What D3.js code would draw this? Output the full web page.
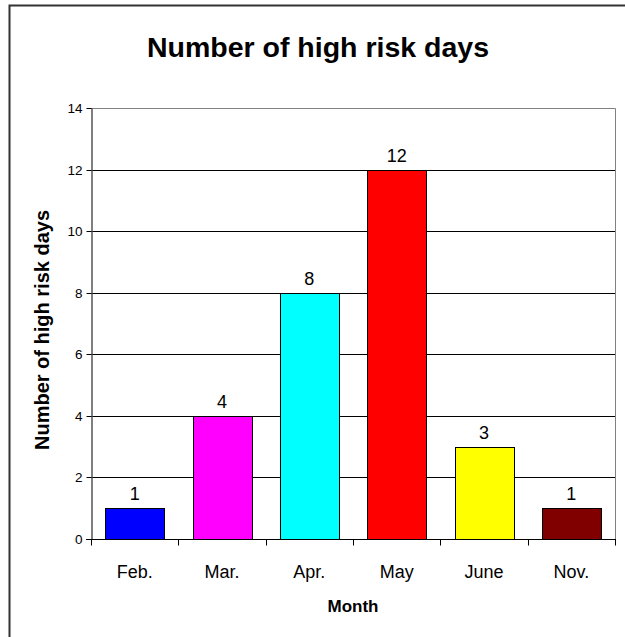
<!DOCTYPE html>
<html>
<head>
<meta charset="utf-8">
<script src="https://cdn.jsdelivr.net/npm/d3@7"></script>
<style>
  html, body { margin: 0; padding: 0; background: #fff; }
  svg { display: block; font-family: Arial, "Liberation Sans", sans-serif; }
  .ytick text { font-size: 13.5px; }
</style>
</head>
<body>
<svg id="chart" width="625" height="637"></svg>
<script>
const categories = ["Feb.", "Mar.", "Apr.", "May", "June", "Nov."];
const values = [1, 4, 8, 12, 3, 1];
const barColors = ["#0000FF", "#FF00FF", "#00FFFF", "#FF0000", "#FFFF00", "#800000"];
const yTicks = [0, 2, 4, 6, 8, 10, 12, 14];
const titleText = "Number of high risk days";
const yLabelText = "Number of high risk days";
const xLabelText = "Month";

const svg = d3.select("#chart");
const W = 625, H = 637;
const m = { left: 91, right: 615, top: 108, bottom: 539 };

// outer border (top & left visible)
svg.append("path")
  .attr("d", `M9.5,${H} L9.5,5.5 L${W},5.5`)
  .attr("fill", "none").attr("stroke", "#333").attr("stroke-width", 2);

const x = d3.scaleBand().domain(categories).range([m.left, m.right]).paddingInner(0.33).paddingOuter(0.165);
const xCat = d3.scaleBand().domain(categories).range([m.left, m.right]).padding(0);
const y = d3.scaleLinear().domain([0, 14]).range([m.bottom, m.top]);

// gridlines
svg.append("g").selectAll("line").data(yTicks.filter(t => t > 0 && t < 14)).join("line")
  .attr("x1", m.left).attr("x2", m.right)
  .attr("y1", d => Math.round(y(d)) + 0.5).attr("y2", d => Math.round(y(d)) + 0.5)
  .attr("stroke", "#000").attr("stroke-width", 1);

// plot border top/right
svg.append("path")
  .attr("d", `M${m.left},${Math.round(y(14)) + 0.5} L${m.right + 0.5},${Math.round(y(14)) + 0.5} L${m.right + 0.5},${m.bottom}`)
  .attr("fill", "none").attr("stroke", "#808080").attr("stroke-width", 1);

// bars
svg.append("g").selectAll("rect").data(categories).join("rect")
  .attr("x", d => Math.round(x(d)) + 0.5)
  .attr("y", (d, i) => Math.round(y(values[i])) + 0.5)
  .attr("width", Math.round(x.bandwidth()))
  .attr("height", (d, i) => Math.round(y(0)) - Math.round(y(values[i])))
  .attr("fill", (d, i) => barColors[i])
  .attr("stroke", "#000").attr("stroke-width", 1);

// data labels
svg.append("g").selectAll("text").data(categories).join("text")
  .attr("x", d => x(d) + x.bandwidth() / 2)
  .attr("y", (d, i) => y(values[i]) - 8)
  .attr("text-anchor", "middle")
  .style("font-size", "18px").attr("fill", "#000")
  .text((d, i) => values[i]);

// y axis
const yAxis = svg.append("g").attr("class", "ytick").attr("transform", `translate(${m.left + 0.5},0)`)
  .call(d3.axisLeft(y).tickValues(yTicks).tickSize(5).tickPadding(4).tickSizeOuter(0));
yAxis.attr("font-size", null).attr("font-family", null);
yAxis.select(".domain").attr("stroke", "#555").attr("stroke-width", 1.5);
yAxis.selectAll(".tick line").attr("stroke", "#000");
yAxis.selectAll(".tick text").attr("fill", "#000");
yAxis.selectAll(".tick").attr("transform", d => `translate(0,${Math.round(y(d)) + 0.5})`);

// x axis
const xAxis = svg.append("g").attr("transform", `translate(0,${Math.round(y(0)) + 0.5})`);
xAxis.append("line").attr("x1", m.left - 5).attr("x2", m.right + 1).attr("stroke", "#000");
xAxis.selectAll("line.tk").data(categories.concat(["_end"])).join("line").attr("class", "tk")
  .attr("x1", (d, i) => Math.round(i < categories.length ? xCat(d) : m.right) + 0.5)
  .attr("x2", (d, i) => Math.round(i < categories.length ? xCat(d) : m.right) + 0.5)
  .attr("y1", 0).attr("y2", 6).attr("stroke", "#000");
xAxis.selectAll("text").data(categories).join("text")
  .attr("x", d => xCat(d) + xCat.bandwidth() / 2)
  .attr("y", 38)
  .attr("text-anchor", "middle").style("font-size", "18px").attr("fill", "#000")
  .text(d => d);

// title
svg.append("text").attr("x", 318).attr("y", 57).attr("text-anchor", "middle")
  .style("font-size", "28.5px").attr("font-weight", "bold").text(titleText);

// y label
svg.append("text").attr("transform", `translate(49,330) rotate(-90)`).attr("text-anchor", "middle")
  .style("font-size", "20px").attr("font-weight", "bold").text(yLabelText);

// x label
svg.append("text").attr("x", (m.left + m.right) / 2).attr("y", 612).attr("text-anchor", "middle")
  .style("font-size", "17px").attr("font-weight", "bold").text(xLabelText);
</script>
</body>
</html>
